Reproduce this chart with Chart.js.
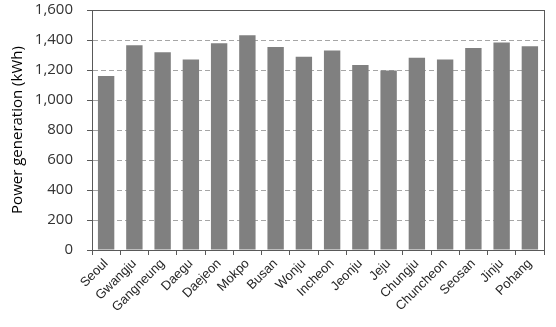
<!DOCTYPE html>
<html>
<head>
<meta charset="utf-8">
<script src="https://cdn.jsdelivr.net/npm/chart.js@4"></script>
<style>
  html, body { margin: 0; padding: 0; background: #fff; }
  #wrap { width: 556px; height: 327px; }
</style>
</head>
<body>
<div id="wrap"><canvas id="powerChart"></canvas></div>
<script>
const cities = ['Seoul', 'Gwangju', 'Gangneung', 'Daegu', 'Daejeon', 'Mokpo', 'Busan', 'Wonju',
    'Incheon', 'Jeonju', 'Jeju', 'Chungju', 'Chuncheon', 'Seosan', 'Jinju', 'Pohang'];
const generation = [1160, 1365, 1318, 1270, 1378, 1432, 1353, 1288,
    1330, 1234, 1197, 1281, 1270, 1347, 1383, 1358];
const yTicks = [0, 200, 400, 600, 800, 1000, 1200, 1400, 1600];

// frame around the plot area
const frame = {
    id: 'frame',
    afterDraw(chart) {
        const a = chart.chartArea, c = chart.ctx;
        c.save();
        c.strokeStyle = '#595959';
        c.lineWidth = 1;
        c.strokeRect(Math.round(a.left) + 0.5, Math.round(a.top) + 0.5,
            Math.round(a.right - a.left), Math.round(a.bottom - a.top));
        c.restore();
    }
};

new Chart(document.getElementById('powerChart'), {
    type: 'bar',
    data: {
        labels: cities,
        datasets: [{
            label: 'Power generation',
            data: generation,
            backgroundColor: '#808080',
            barPercentage: 0.58,
            categoryPercentage: 1
        }]
    },
    options: {
        responsive: true,
        maintainAspectRatio: false,
        animation: false,
        layout: { padding: { top: 10, right: 12, left: 9, bottom: 0 } },
        plugins: {
            legend: { display: false },
            tooltip: { enabled: false }
        },
        scales: {
            x: {
                grid: { drawOnChartArea: false, drawTicks: true, tickLength: 5, tickColor: '#595959', offset: true },
                border: { color: '#595959' },
                ticks: {
                    minRotation: 45, maxRotation: 45, autoSkip: false,
                    color: '#262626', padding: 1,
                    font: { family: '"Liberation Sans", Arial', size: 13 }
                },
                afterFit(s) { s.height = 77; }
            },
            y: {
                min: 0, max: 1600,
                afterBuildTicks(s) { s.ticks = yTicks.map(v => ({ value: v })); },
                grid: { color: '#a6a6a6', tickColor: '#595959', tickLength: 5 },
                border: { color: '#595959', dash: [5, 3] },
                ticks: {
                    color: '#333333', padding: 14,
                    font: { family: '"Open Sans"', size: 15 },
                    callback: v => v.toLocaleString('en-US')
                },
                title: {
                    display: true, text: 'Power generation (kWh)', color: '#000',
                    font: { family: '"Open Sans"', size: 15 }, padding: { top: 0, bottom: 0 }
                },
                afterFit(s) { s.width = 83; s.paddingTop = 0; }
            }
        }
    },
    plugins: [frame]
});
</script>
</body>
</html>
